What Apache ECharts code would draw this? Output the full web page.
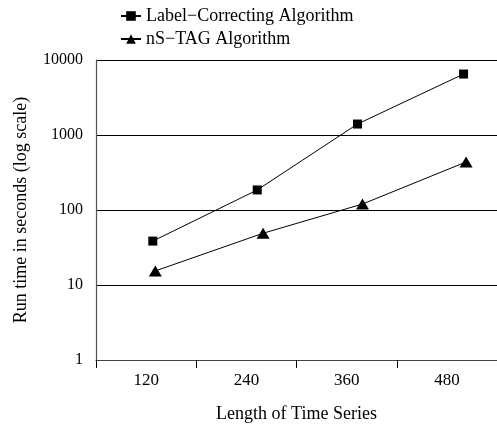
<!DOCTYPE html>
<html><head><meta charset="utf-8">
<script src="https://cdn.jsdelivr.net/npm/echarts@6/dist/echarts.min.js"></script>
<style>html,body{margin:0;padding:0;background:#fff}#c{width:497px;height:426px}</style>
</head><body><div id="c"></div>
<script>
const categories = ['120', '240', '360', '480'];
const seriesNames = ['Label\u2212Correcting Algorithm', 'nS\u2212TAG Algorithm'];
// x positions (length units), y run time in seconds
const labelCorrectingX = [128, 253, 373, 500];
const labelCorrectingY = [38.5, 185, 1400, 6500];
const nsTagX = [131, 260, 379, 503];
const nsTagY = [15.4, 49, 120, 437];
const yTicks = [1, 10, 100, 1000, 10000];

const font = '"Liberation Serif", "DejaVu Serif", serif';
const chart = echarts.init(document.getElementById('c'));
chart.setOption({
  animation: false,
  backgroundColor: '#fff',
  textStyle: { fontFamily: font },
  legend: {
    orient: 'vertical', left: 115, top: 2, itemGap: 5,
    itemWidth: 20, itemHeight: 12,
    textStyle: { fontFamily: font, fontSize: 18, color: '#000' },
    data: seriesNames
  },
  grid: { left: 96, top: 60, right: 0, bottom: 66, outerBoundsMode: 'none', containLabel: false },
  xAxis: [{
    type: 'category', data: categories, boundaryGap: true,
    axisLine: { lineStyle: { color: '#444', width: 1.2 } },
    axisTick: { show: true, length: 8, lineStyle: { color: '#000' } },
    axisLabel: { fontFamily: font, fontSize: 17, color: '#000', margin: 12 },
    name: 'Length of Time Series', nameLocation: 'middle', nameGap: 45,
    nameTextStyle: { fontFamily: font, fontSize: 18, color: '#000' }
  }, {
    type: 'value', min: 60, max: 540, show: false
  }],
  yAxis: {
    type: 'log', logBase: 10, min: yTicks[0], max: yTicks[yTicks.length - 1],
    axisLine: { show: true, lineStyle: { color: '#555', width: 1.2 } },
    axisTick: { show: false },
    axisLabel: { fontFamily: font, fontSize: 16, color: '#000', margin: 13,
      formatter: v => String(Math.round(v)) },
    splitLine: { show: true, lineStyle: { color: '#000', width: 1 } },
    name: 'Run time in seconds (log scale)', nameLocation: 'middle', nameGap: 66,
    nameTextStyle: { fontFamily: font, fontSize: 18, color: '#000' }
  },
  series: [{
    name: seriesNames[0], type: 'line', xAxisIndex: 1,
    data: labelCorrectingX.map((x, i) => [x, labelCorrectingY[i]]),
    symbol: 'rect', symbolSize: 9,
    itemStyle: { color: '#000' }, lineStyle: { color: '#000', width: 1 }
  }, {
    name: seriesNames[1], type: 'line', xAxisIndex: 1,
    data: nsTagX.map((x, i) => [x, nsTagY[i]]),
    symbol: 'triangle', symbolSize: [13, 11],
    itemStyle: { color: '#000' }, lineStyle: { color: '#000', width: 1 }
  }]
});
</script></body></html>
